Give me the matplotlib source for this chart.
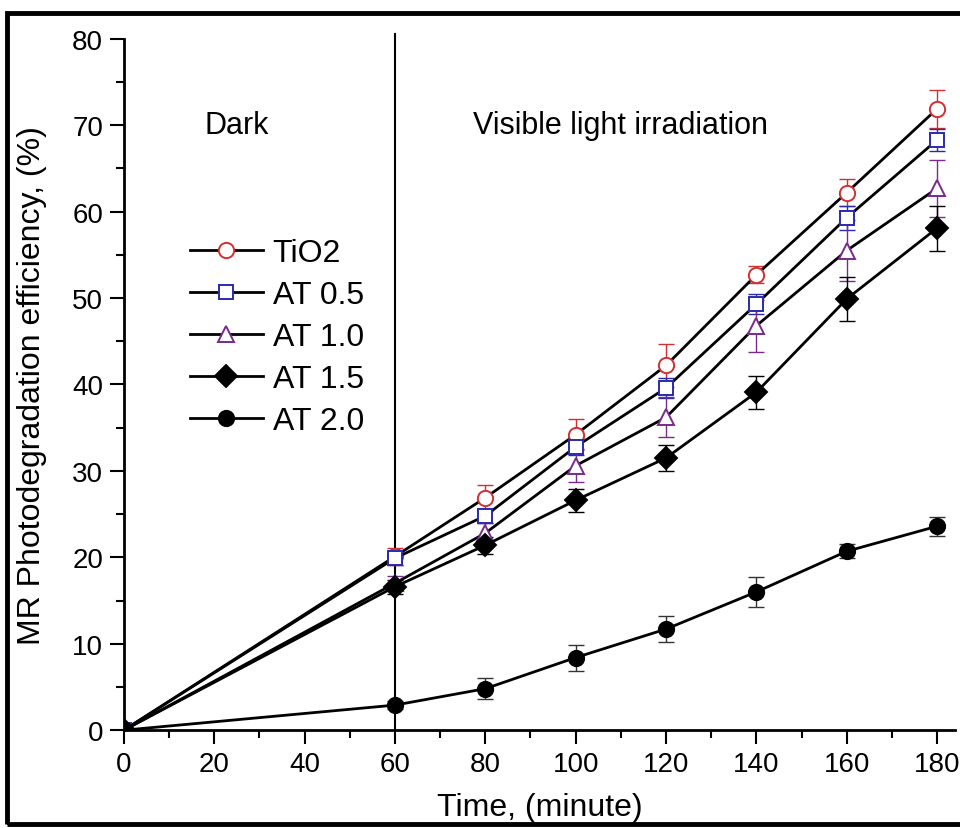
import matplotlib
matplotlib.use("Agg")
import matplotlib.pyplot as plt
from matplotlib.patches import Rectangle
from matplotlib.ticker import MultipleLocator

plt.rcParams['font.family'] = ['Liberation Sans', 'DejaVu Sans']

time = [0, 60, 80, 100, 120, 140, 160, 180]
labels = ['TiO2', 'AT 0.5', 'AT 1.0', 'AT 1.5', 'AT 2.0']
tio2 = [0, 20.1, 26.9, 34.2, 42.2, 52.7, 62.2, 71.9]
at05 = [0, 19.9, 24.8, 32.8, 39.6, 49.3, 59.3, 68.3]
at10 = [0, 17.0, 22.8, 30.6, 36.2, 46.8, 55.5, 62.7]
at15 = [0, 16.6, 21.4, 26.6, 31.5, 39.1, 49.9, 58.1]
at20 = [0, 2.9, 4.8, 8.4, 11.7, 16.0, 20.7, 23.6]
err_tio2 = [0, 1.0, 1.5, 1.8, 2.5, 1.0, 1.6, 2.2]
err_at05 = [0, 0.8, 0.8, 1.0, 1.2, 1.2, 1.4, 1.3]
err_at10 = [0, 0.8, 1.2, 1.9, 2.3, 3.0, 3.5, 3.3]
err_at15 = [0, 0.8, 1.0, 1.35, 1.5, 1.9, 2.5, 2.6]
err_at20 = [0, 0.5, 1.2, 1.5, 1.5, 1.7, 0.8, 1.1]

series = [tio2, at05, at10, at15, at20]
errors = [err_tio2, err_at05, err_at10, err_at15, err_at20]
markers = ['o', 's', '^', 'D', 'o']
mcolors = ['#d03030', '#2a2ab0', '#7a2a8a', 'black', 'black']
faces = ['white', 'white', 'white', 'black', 'black']
msizes = [11, 10, 12, 11, 11]
ecolors = ['#d03030', '#2a2ab0', '#7a2a8a', 'black', '#333333']

fig = plt.figure(figsize=(9.6, 8.29), dpi=100)
ax = fig.add_axes([0.129, 0.118, 0.866, 0.834])

handles = []
for ys, es, m, mc, fc, ms, ec, lab in zip(series, errors, markers, mcolors, faces, msizes, ecolors, labels):
    ax.errorbar(time, ys, yerr=es, fmt='none', ecolor=ec, elinewidth=1.0,
                capsize=6, capthick=1.0, zorder=2)
    h, = ax.plot(time, ys, color='black', lw=2.0, marker=m, markersize=ms,
                 markerfacecolor=fc, markeredgecolor=mc, markeredgewidth=1.4,
                 label=lab, zorder=3)
    handles.append(h)

ax.plot([60, 60], [0, 80.6], color='black', lw=1.5, clip_on=False, zorder=1)

ax.set_xlim(0, 184)
ax.set_ylim(0, 80)
ax.xaxis.set_major_locator(MultipleLocator(20))
ax.xaxis.set_minor_locator(MultipleLocator(10))
ax.yaxis.set_major_locator(MultipleLocator(10))
ax.yaxis.set_minor_locator(MultipleLocator(5))
for s in ['top', 'right']:
    ax.spines[s].set_visible(False)
for s in ['left', 'bottom']:
    ax.spines[s].set_linewidth(2.0)
ax.tick_params(which='major', direction='out', length=10, width=1.5, labelsize=20, pad=5)
ax.tick_params(which='minor', direction='out', length=6, width=1.5)

ax.set_xlabel('Time, (minute)', fontsize=23, labelpad=11)
ax.set_ylabel('MR Photodegradation efficiency, (%)', fontsize=23, labelpad=18)

ax.text(25, 70, 'Dark', fontsize=22, ha='center', va='center')
ax.text(110, 70, 'Visible light irradiation', fontsize=22, ha='center', va='center')

leg = ax.legend(handles=handles, loc='upper left', bbox_to_anchor=(0.079, 0.712),
                frameon=False, fontsize=23, handlelength=2.3, handletextpad=0.3,
                labelspacing=0.38, borderaxespad=0, borderpad=0)

fig.patches.append(Rectangle((0.007, 0.005), 1.05, 0.978, transform=fig.transFigure,
                             fill=False, edgecolor='black', linewidth=3.5))

fig.savefig('out.png', dpi=100)
